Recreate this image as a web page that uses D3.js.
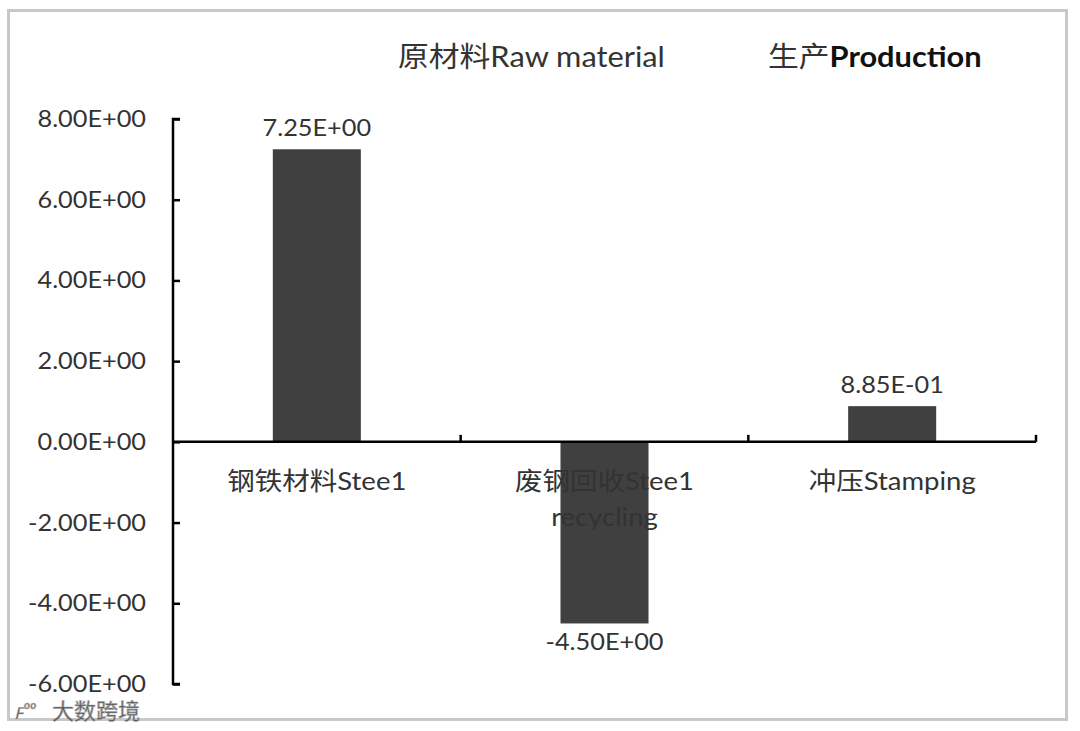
<!DOCTYPE html>
<html><head><meta charset="utf-8">
<script src="https://cdn.jsdelivr.net/npm/d3@7"></script>
<style>body{margin:0;background:#fff}svg{display:block}text{font-family:Lato,"Noto Sans CJK SC",sans-serif;fill:#333}</style>
</head><body><svg id="c" width="1080" height="731"></svg>
<script>
const categories = [["钢铁材料Stee1"], ["废钢回收Stee1", "recycling"], ["冲压Stamping"]];
const values = [7.25, -4.50, 0.885];
const valueLabels = ["7.25E+00", "-4.50E+00", "8.85E-01"];
const yTicks = [8, 6, 4, 2, 0, -2, -4, -6];
const yTickLabels = ["8.00E+00", "6.00E+00", "4.00E+00", "2.00E+00", "0.00E+00", "-2.00E+00", "-4.00E+00", "-6.00E+00"];
const stageTitles = ["原材料", "生产"];
const stageTitlesEn = ["Raw material", "Production"];

const SX = 1.1;
const svg = d3.select("#c");
svg.append("rect").attr("x", 8.5).attr("y", 10.5).attr("width", 1058).attr("height", 709)
  .attr("fill", "#fff").attr("stroke", "#c8c8c8").attr("stroke-width", 3);

function txt(x, yy, size, anchor) {
  return svg.append("text").attr("transform", `translate(${x},${yy}) scale(${SX},1)`)
    .attr("font-size", size).attr("text-anchor", anchor || "start");
}

const x0 = 173, x1 = 1036;
const y = d3.scaleLinear().domain([-6, 8]).range([684, 119]);
const x = d3.scaleBand().domain(d3.range(categories.length)).range([x0, x1]).paddingInner(0.694).paddingOuter(0.347);
const xb = d3.scaleBand().domain(d3.range(categories.length)).range([x0, x1]);

// bars
svg.selectAll("rect.bar").data(values).join("rect").attr("class", "bar")
  .attr("x", (d, i) => x(i)).attr("width", x.bandwidth())
  .attr("y", d => y(Math.max(0, d))).attr("height", d => Math.abs(y(d) - y(0)))
  .attr("fill", "#404040");

// y axis
const yAxis = d3.axisRight(y).tickValues(yTicks).tickSize(7).tickFormat("");
const gy = svg.append("g").attr("transform", `translate(${x0},0)`).call(yAxis);
gy.select(".domain").attr("stroke", "#000").attr("stroke-width", 2.5).attr("d", `M7,${y(8)}H0V${y(-6)}H7`);
gy.selectAll(".tick line").attr("stroke", "#000").attr("stroke-width", 2.5);
yTicks.forEach((d, i) => txt(146, y(d), 23, "end").attr("dy", "0.35em").text(yTickLabels[i]));

// x axis
const xAxis = d3.axisTop(xb).tickSize(0).tickFormat("");
const gx = svg.append("g").attr("transform", `translate(0,${y(0)})`).call(xAxis);
gx.select(".domain").attr("stroke", "#000").attr("stroke-width", 2.5).attr("d", `M${x0},0H${x1}`);
[1, 2, 3].forEach(k => {
  const xx = k < 3 ? xb(k) : x1;
  gx.append("line").attr("x1", xx).attr("x2", xx).attr("y1", 0).attr("y2", -7).attr("stroke", "#000").attr("stroke-width", 2.5);
});

// category labels
categories.forEach((lines, i) => {
  lines.forEach((l, j) => txt(xb(i) + xb.bandwidth() / 2, 490 + j * 36, 25, "middle").text(l));
});

// value labels
values.forEach((d, i) => txt(x(i) + x.bandwidth() / 2, d >= 0 ? y(d) - 13 : y(d) + 27, 23, "middle").text(valueLabels[i]));

// stage titles
const st1 = txt(398, 67, 28);
st1.append("tspan").text(stageTitles[0]); st1.append("tspan").text(stageTitlesEn[0]);
const st2 = txt(768, 67, 28);
st2.append("tspan").text(stageTitles[1]); st2.append("tspan").attr("font-weight", "bold").attr("fill", "#111").text(stageTitlesEn[1]);

// watermark
const wm = svg.append("g").attr("opacity", 0.85);
wm.append("text").attr("x", 14).attr("y", 719).attr("font-size", 22).attr("font-style", "italic")
  .attr("fill", "#ddd").attr("stroke", "#aaa").attr("stroke-width", 0.6).text("ꜰᵒᵒ");
wm.append("text").attr("x", 52).attr("y", 719).attr("font-size", 22)
  .attr("fill", "#e0e0e0").attr("stroke", "#9a9a9a").attr("stroke-width", 0.7).text("大数跨境");
</script></body></html>
